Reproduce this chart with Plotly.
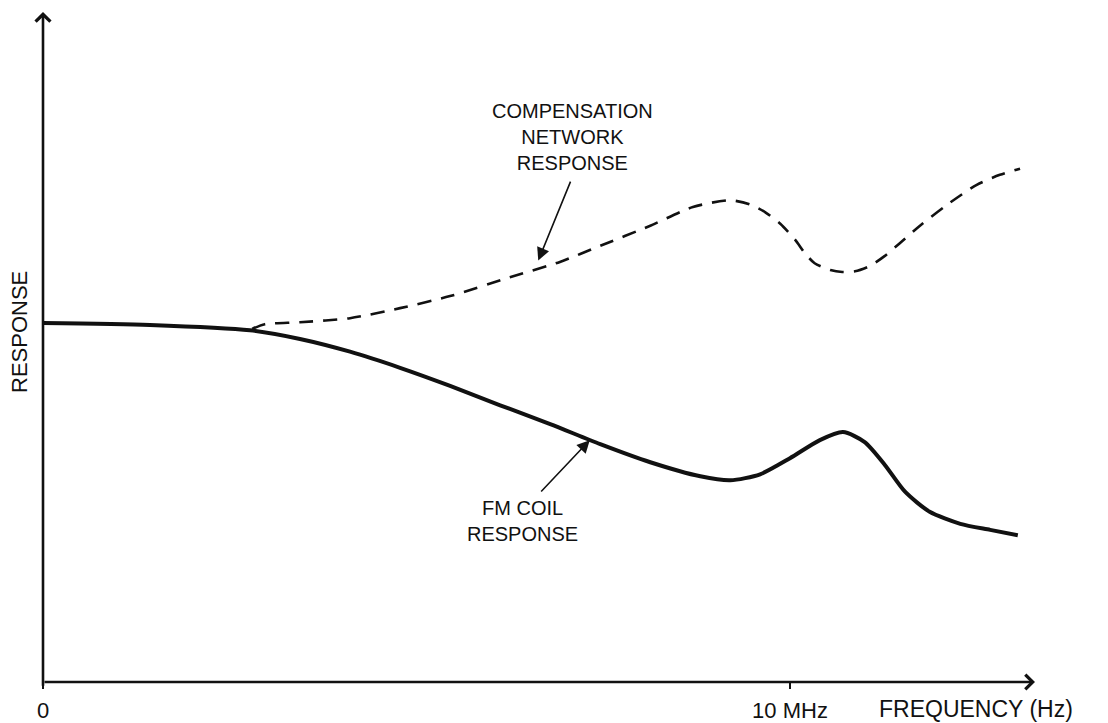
import plotly.graph_objects as go

# Frequency in arbitrary units where the marked tick is 10 MHz; response in arbitrary units
coil_freq = [0.0, 1.43, 2.77, 3.44, 4.11, 4.78, 5.45, 6.12, 6.79, 7.46, 8.13, 8.80,
             9.20, 9.60, 10.0, 10.40, 10.71, 11.0, 11.27, 11.54, 11.87, 12.28, 12.68, 13.05]
coil_resp = [5.36, 5.33, 5.25, 5.12, 4.93, 4.69, 4.42, 4.13, 3.85, 3.55, 3.28, 3.07,
             3.01, 3.10, 3.34, 3.61, 3.73, 3.58, 3.24, 2.84, 2.54, 2.36, 2.27, 2.19]

comp_freq = [2.80, 2.97, 3.44, 4.11, 4.78, 5.45, 6.25, 6.92, 7.46, 8.13, 8.70, 9.20,
             9.46, 9.67, 9.87, 10.07, 10.20, 10.33, 10.54, 10.70, 10.87, 11.07, 11.27,
             11.47, 11.74, 12.10, 12.50, 12.81, 13.08]
comp_resp = [5.27, 5.34, 5.37, 5.43, 5.58, 5.76, 6.04, 6.27, 6.51, 6.81, 7.09, 7.19,
             7.13, 7.01, 6.84, 6.60, 6.40, 6.25, 6.15, 6.12, 6.13, 6.21, 6.36,
             6.55, 6.81, 7.12, 7.42, 7.57, 7.66]

tick_vals = [0, 10]
tick_text = ["0", "10 MHz"]

X_MAX = 13.28
Y_MAX = 10.0
FONT = "Liberation Sans, Arial, sans-serif"
INK = "#111111"

fig = go.Figure()

fig.add_trace(go.Scatter(
    x=coil_freq, y=coil_resp, mode="lines",
    line=dict(color=INK, width=4, shape="spline", smoothing=0.7),
    name="FM coil response",
))
fig.add_trace(go.Scatter(
    x=comp_freq, y=comp_resp, mode="lines",
    line=dict(color=INK, width=2.6, shape="spline", smoothing=0.7, dash="14px,10px"),
    name="Compensation network response",
))

annotations = [
    # axes with open arrow heads
    dict(x=X_MAX, y=0, ax=0, ay=0, xref="x", yref="y", axref="x", ayref="y",
         showarrow=True, arrowhead=4, arrowsize=1.1, arrowwidth=2.6, arrowcolor=INK, text=""),
    dict(x=0, y=Y_MAX, ax=0, ay=-0.08, xref="x", yref="y", axref="x", ayref="y",
         showarrow=True, arrowhead=4, arrowsize=1.1, arrowwidth=2.6, arrowcolor=INK, text=""),
    # curve labels
    dict(x=7.09, y=7.55, xref="x", yref="y", showarrow=False, yanchor="bottom",
         text="COMPENSATION<br>NETWORK<br>RESPONSE", align="center",
         font=dict(family=FONT, size=20, color=INK)),
    dict(x=6.63, y=6.29, ax=7.07, ay=7.49, xref="x", yref="y", axref="x", ayref="y",
         showarrow=True, arrowhead=2, arrowsize=1.6, arrowwidth=1.6, arrowcolor=INK, text=""),
    dict(x=6.42, y=2.79, xref="x", yref="y", showarrow=False, yanchor="top",
         text="FM COIL<br>RESPONSE", align="center",
         font=dict(family=FONT, size=20, color=INK)),
    dict(x=7.32, y=3.61, ax=6.65, ay=2.82, xref="x", yref="y", axref="x", ayref="y",
         showarrow=True, arrowhead=2, arrowsize=1.6, arrowwidth=1.6, arrowcolor=INK, text=""),
    # axis titles (placed in page pixels, converted below)
    dict(x=19, y=332, xref="paper", yref="paper", showarrow=False, text="RESPONSE",
         xanchor="center", yanchor="middle",
         textangle=-90, font=dict(family=FONT, size=22, color=INK)),
    dict(x=877, y=709, xref="paper", yref="paper", showarrow=False,
         xanchor="left", yanchor="middle",
         text="FREQUENCY (Hz)", font=dict(family=FONT, size=23, color=INK)),
]

# plot area in page pixels; the page body adds an 8px offset to the figure
PLOT_L, PLOT_R, PLOT_T, PLOT_B = 43, 1035, 12, 682
OFF = 8
for a in annotations:
    if a.get("xref") == "paper":
        a["x"] = (a["x"] - PLOT_L) / (PLOT_R - PLOT_L)
        a["y"] = (PLOT_B - a["y"]) / (PLOT_B - PLOT_T)

fig.update_layout(
    width=1108, height=723,
    margin=dict(l=PLOT_L - OFF, r=1108 - PLOT_R + OFF, t=PLOT_T - OFF,
                b=723 - PLOT_B + OFF, autoexpand=False),
    plot_bgcolor="white", paper_bgcolor="white",
    showlegend=False,
    annotations=annotations,
    xaxis=dict(range=[0, X_MAX], showgrid=False, zeroline=False, showline=False,
               tickvals=tick_vals, ticktext=tick_text, ticks="outside", ticklen=6,
               tickwidth=1.5, tickcolor=INK, ticklabelstandoff=3, automargin=False,
               tickfont=dict(family=FONT, size=22, color=INK)),
    yaxis=dict(range=[0, Y_MAX], showgrid=False, zeroline=False, showline=False,
               showticklabels=False, ticks="", automargin=False),
)

fig.write_html("out.html")
